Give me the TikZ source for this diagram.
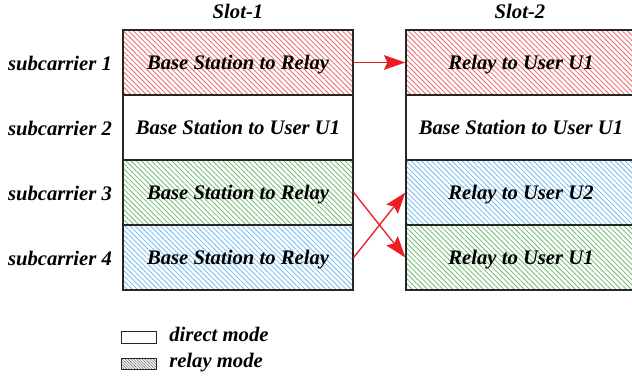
\documentclass[tikz,border=0pt]{standalone}
\usepackage{fontspec}
\setmainfont{Liberation Serif}
\usetikzlibrary{patterns.meta,arrows.meta}
\definecolor{hred}{RGB}{238,100,100}
\definecolor{hgreen}{RGB}{110,185,110}
\definecolor{hblue}{RGB}{110,185,240}
\definecolor{arrred}{RGB}{236,30,36}
\tikzset{
  lbl/.style={font=\fontsize{15.5}{18}\selectfont\bfseries\itshape, inner sep=0pt, anchor=base},
  cell/.style={draw=black!85, line width=1pt, minimum width=172.5pt, minimum height=48.75pt, inner sep=0pt, text height=11pt, text depth=0pt, font=\fontsize{15.5}{18}\selectfont\bfseries\itshape},
  hatch/.style={pattern={Lines[angle=-45,distance=2.7pt,line width=0.6pt]}, pattern color=#1},
  arr/.style={draw=arrred, line width=1pt, -{Stealth[length=16pt,width=11pt,inset=2.5pt]}, arrred},
  legbox/.style={draw=black!85, line width=0.8pt, minimum width=26pt, minimum height=8.5pt, inner sep=0pt}
}
\begin{document}
\begin{tikzpicture}[x=0.75pt,y=-0.75pt]
\useasboundingbox (0,0) rectangle (632,381);
% titles
\node[lbl] (s1) at (238,18.5) {Slot-1};
\node[lbl] (s2) at (520,18.5) {Slot-2};
% row labels
\node[lbl] (r1) at (60,70.5) {subcarrier 1};
\node[lbl] (r2) at (60,135.5) {subcarrier 2};
\node[lbl] (r3) at (60,200.5) {subcarrier 3};
\node[lbl] (r4) at (60,265.5) {subcarrier 4};
% slot 1
\node[cell, hatch=hred] (a1) at (238,62.5) {Base Station to Relay};
\node[cell] (a2) at (238,127.5) {Base Station to User U1};
\node[cell, hatch=hgreen] (a3) at (238,192.5) {Base Station to Relay};
\node[cell, hatch=hblue] (a4) at (238,257.5) {Base Station to Relay};
% slot 2
\node[cell, hatch=hred] (b1) at (521,62.5) {Relay to User U1};
\node[cell] (b2) at (521,127.5) {Base Station to User U1};
\node[cell, hatch=hblue] (b3) at (521,192.5) {Relay to User U2};
\node[cell, hatch=hgreen] (b4) at (521,257.5) {Relay to User U1};
% arrows
\draw[arr] (a1.east) -- (b1.west);
\draw[arr] (a3.east) -- (b4.west);
\draw[arr] (a4.east) -- (b3.west);
% legend
\node[legbox] (l1) at (139,337.5) {};
\node[legbox, pattern={Lines[angle=-45,distance=1.5pt,line width=0.45pt]}, pattern color=black!55] (l2) at (139,364) {};
\node[lbl, anchor=base west] (t1) at (169,341) {direct mode};
\node[lbl, anchor=base west] (t2) at (169,367.5) {relay mode};
\end{tikzpicture}
\end{document}
